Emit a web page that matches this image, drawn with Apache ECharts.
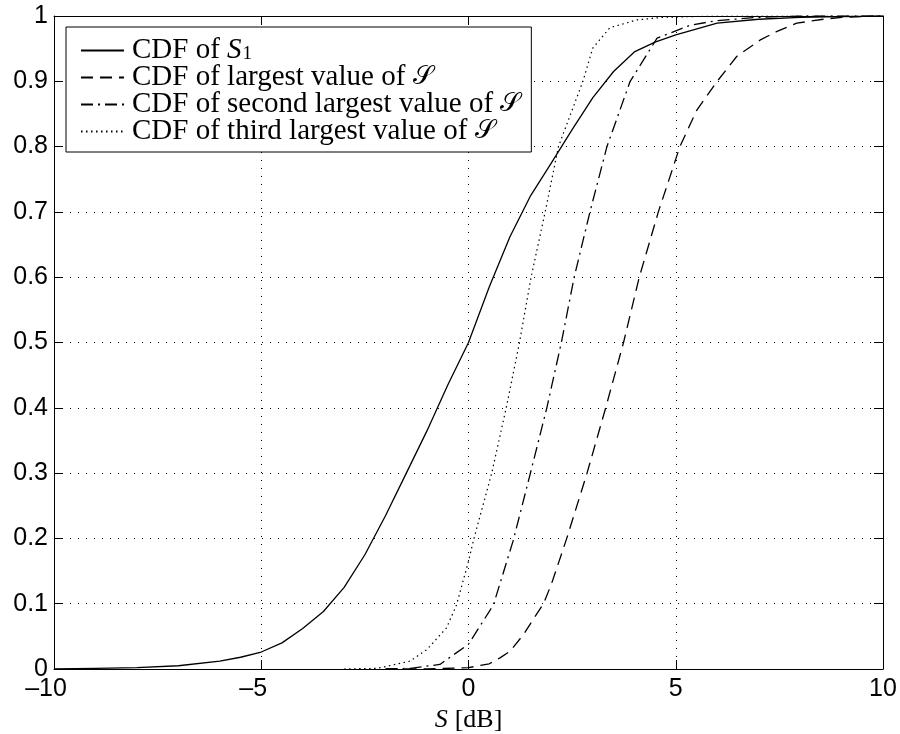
<!DOCTYPE html>
<html>
<head>
<meta charset="utf-8">
<script src="https://cdn.jsdelivr.net/npm/echarts@6/dist/echarts.min.js"></script>
<style>
html,body{margin:0;padding:0;background:#fff;}
#chart{width:900px;height:734px;}
</style>
</head>
<body>
<div id="chart"></div>
<script>
// ---- Data ----
var xTicks = [-10, -5, 0, 5, 10];
var yTicks = [0, 0.1, 0.2, 0.3, 0.4, 0.5, 0.6, 0.7, 0.8, 0.9, 1];

// CDF of S1 (solid)
var s1X = [-10, -9, -8, -7, -6, -5.5, -5, -4.5, -4, -3.5, -3, -2.5, -2, -1.5, -1, -0.5, 0, 0.5, 1, 1.5, 2, 2.5, 3, 3.5, 4, 4.5, 5, 6, 7, 8, 9, 10];
var s1Y = [0, 0.001, 0.002, 0.005, 0.012, 0.018, 0.026, 0.04, 0.062, 0.088, 0.125, 0.175, 0.235, 0.3, 0.365, 0.435, 0.5, 0.585, 0.662, 0.725, 0.775, 0.826, 0.875, 0.915, 0.945, 0.96, 0.971, 0.989, 0.995, 0.998, 0.999, 1];

// CDF of largest value (dashed)
var largestX = [-2, -1, 0, 0.5, 0.76, 1, 1.33, 1.5, 1.81, 2, 2.37, 2.86, 3.31, 3.74, 4.12, 4.58, 5.1, 5.5, 6.0, 6.47, 7.03, 7.43, 7.92, 8.56, 9, 10];
var largestY = [0, 0, 0.002, 0.008, 0.017, 0.027, 0.053, 0.07, 0.1, 0.13, 0.2, 0.3, 0.4, 0.5, 0.6, 0.7, 0.8, 0.855, 0.9, 0.938, 0.963, 0.976, 0.989, 0.995, 0.998, 1];

// CDF of second largest value (dash-dot)
var secondX = [-2, -1.4, -0.69, 0, 0.6, 1.08, 1.49, 1.89, 2.24, 2.55, 2.93, 3.34, 3.9, 4.55, 5.35, 6, 7, 8, 10];
var secondY = [0, 0.001, 0.007, 0.038, 0.098, 0.197, 0.299, 0.4, 0.5, 0.6, 0.7, 0.8, 0.9, 0.966, 0.986, 0.993, 0.998, 1, 1];

// CDF of third largest value (dotted)
var thirdX = [-3, -2.2, -1.41, -1, -0.53, -0.29, 0, 0.12, 0.56, 0.91, 1.23, 1.51, 1.85, 2.17, 2.76, 3.0, 3.41, 4.06, 4.7, 6, 10];
var thirdY = [0, 0.001, 0.012, 0.03, 0.063, 0.098, 0.165, 0.197, 0.3, 0.4, 0.5, 0.6, 0.7, 0.8, 0.9, 0.951, 0.982, 0.994, 0.998, 1, 1];

var seriesNames = ['S1', 'largest', 'second', 'third'];
var legendTexts = {
  'S1': '{t|CDF of }{i|S}{sub|1}',
  'largest': '{t|CDF of largest value of }{c|\uD835\uDCAE}',
  'second': '{t|CDF of second largest value of }{c|\uD835\uDCAE}',
  'third': '{t|CDF of third largest value of }{c|\uD835\uDCAE}'
};

function pairs(xs, ys) {
  var out = [];
  for (var i = 0; i < xs.length; i++) out.push([xs[i], ys[i]]);
  return out;
}

var chart = echarts.init(document.getElementById('chart'), null, {renderer: 'canvas'});

var serif = '"Liberation Serif", "Times New Roman", serif';
var sans = '"Liberation Sans", Arial, sans-serif';

function mkSeries(name, xs, ys, type, width) {
  return {
    name: name,
    type: 'line',
    data: pairs(xs, ys),
    showSymbol: false,
    symbol: 'none',
    smooth: false,
    lineStyle: {color: '#000', width: width, type: type},
    itemStyle: {color: '#000'},
    z: 5
  };
}

var LH = 27;
var option = {
  backgroundColor: '#fff',
  animation: false,
  grid: {left: 54, right: 17, top: 16, bottom: 65, containLabel: false, outerBoundsMode: 'none'},
  legend: {
    show: true,
    data: seriesNames,
    orient: 'vertical',
    left: 66,
    top: 27,
    padding: [9, 11, 6, 14],
    itemGap: -2,
    itemWidth: 43,
    itemHeight: 14,
    backgroundColor: '#fff',
    borderColor: '#000',
    borderWidth: 1,
    borderRadius: 0,
    itemStyle: {opacity: 0},
    formatter: function (n) { return legendTexts[n]; },
    textStyle: {
      color: '#000',
      fontFamily: serif,
      fontSize: 29,
      lineHeight: LH,
      rich: {
        t: {fontFamily: serif, fontSize: 29, color: '#000', lineHeight: LH, padding: [0, 0, 0, 3]},
        i: {fontFamily: serif, fontStyle: 'italic', fontSize: 29, color: '#000', lineHeight: LH},
        sub: {fontFamily: serif, fontSize: 19, color: '#000', lineHeight: 12, verticalAlign: 'bottom', padding: [6, 0, 0, 1]},
        c: {fontFamily: '"DejaVu Serif", "DejaVu Sans", serif', fontSize: 26, color: '#000', lineHeight: LH}
      }
    }
  },
  xAxis: [{
    type: 'value',
    min: xTicks[0],
    max: xTicks[xTicks.length - 1],
    interval: 5,
    position: 'bottom',
    axisLine: {show: true, onZero: false, lineStyle: {color: '#000', width: 1}},
    axisTick: {show: true, inside: true, length: 9, lineStyle: {color: '#000'}},
    axisLabel: {
      color: '#000', fontFamily: sans, fontSize: 25, margin: 8,
      formatter: function (v) {
        if (v < 0) return '{n|' + String(v).replace('-', '\u2013') + '}';
        return '{p|' + v + '}';
      },
      rich: {
        n: {fontFamily: sans, fontSize: 25, color: '#000', padding: [0, 16, 0, 0]},
        p: {fontFamily: sans, fontSize: 25, color: '#000'}
      }
    },
    splitLine: {show: true, lineStyle: {color: '#000', width: 1, type: [1, 7]}},
    name: '{i|S}{t|[dB]}',
    nameLocation: 'middle',
    nameGap: 32,
    nameTextStyle: {
      rich: {
        i: {fontFamily: serif, fontStyle: 'italic', fontSize: 26, color: '#000', padding: [0, 7, 0, 0]},
        t: {fontFamily: serif, fontSize: 26, color: '#000'}
      }
    }
  }, {
    type: 'value',
    min: xTicks[0],
    max: xTicks[xTicks.length - 1],
    interval: 5,
    position: 'top',
    axisLine: {show: true, onZero: false, lineStyle: {color: '#000', width: 1}},
    axisTick: {show: true, inside: true, length: 9, lineStyle: {color: '#000'}},
    axisLabel: {show: false},
    splitLine: {show: false}
  }],
  yAxis: [{
    type: 'value',
    min: yTicks[0],
    max: yTicks[yTicks.length - 1],
    interval: 0.1,
    position: 'left',
    axisLine: {show: true, onZero: false, lineStyle: {color: '#000', width: 1}},
    axisTick: {show: true, inside: true, length: 9, lineStyle: {color: '#000'}},
    axisLabel: {color: '#000', fontFamily: sans, fontSize: 25, margin: 6},
    splitLine: {show: true, lineStyle: {color: '#000', width: 1, type: [1, 7]}}
  }, {
    type: 'value',
    min: yTicks[0],
    max: yTicks[yTicks.length - 1],
    interval: 0.1,
    position: 'right',
    axisLine: {show: true, onZero: false, lineStyle: {color: '#000', width: 1}},
    axisTick: {show: true, inside: true, length: 9, lineStyle: {color: '#000'}},
    axisLabel: {show: false},
    splitLine: {show: false}
  }],
  series: [
    mkSeries(seriesNames[0], s1X, s1Y, 'solid', 1.3),
    mkSeries(seriesNames[1], largestX, largestY, [12, 7], 1.3),
    mkSeries(seriesNames[2], secondX, secondY, [12, 5, 2, 5], 1.3),
    mkSeries(seriesNames[3], thirdX, thirdY, [1.5, 3.5], 1.2)
  ]
};

chart.setOption(option);
</script>
</body>
</html>
